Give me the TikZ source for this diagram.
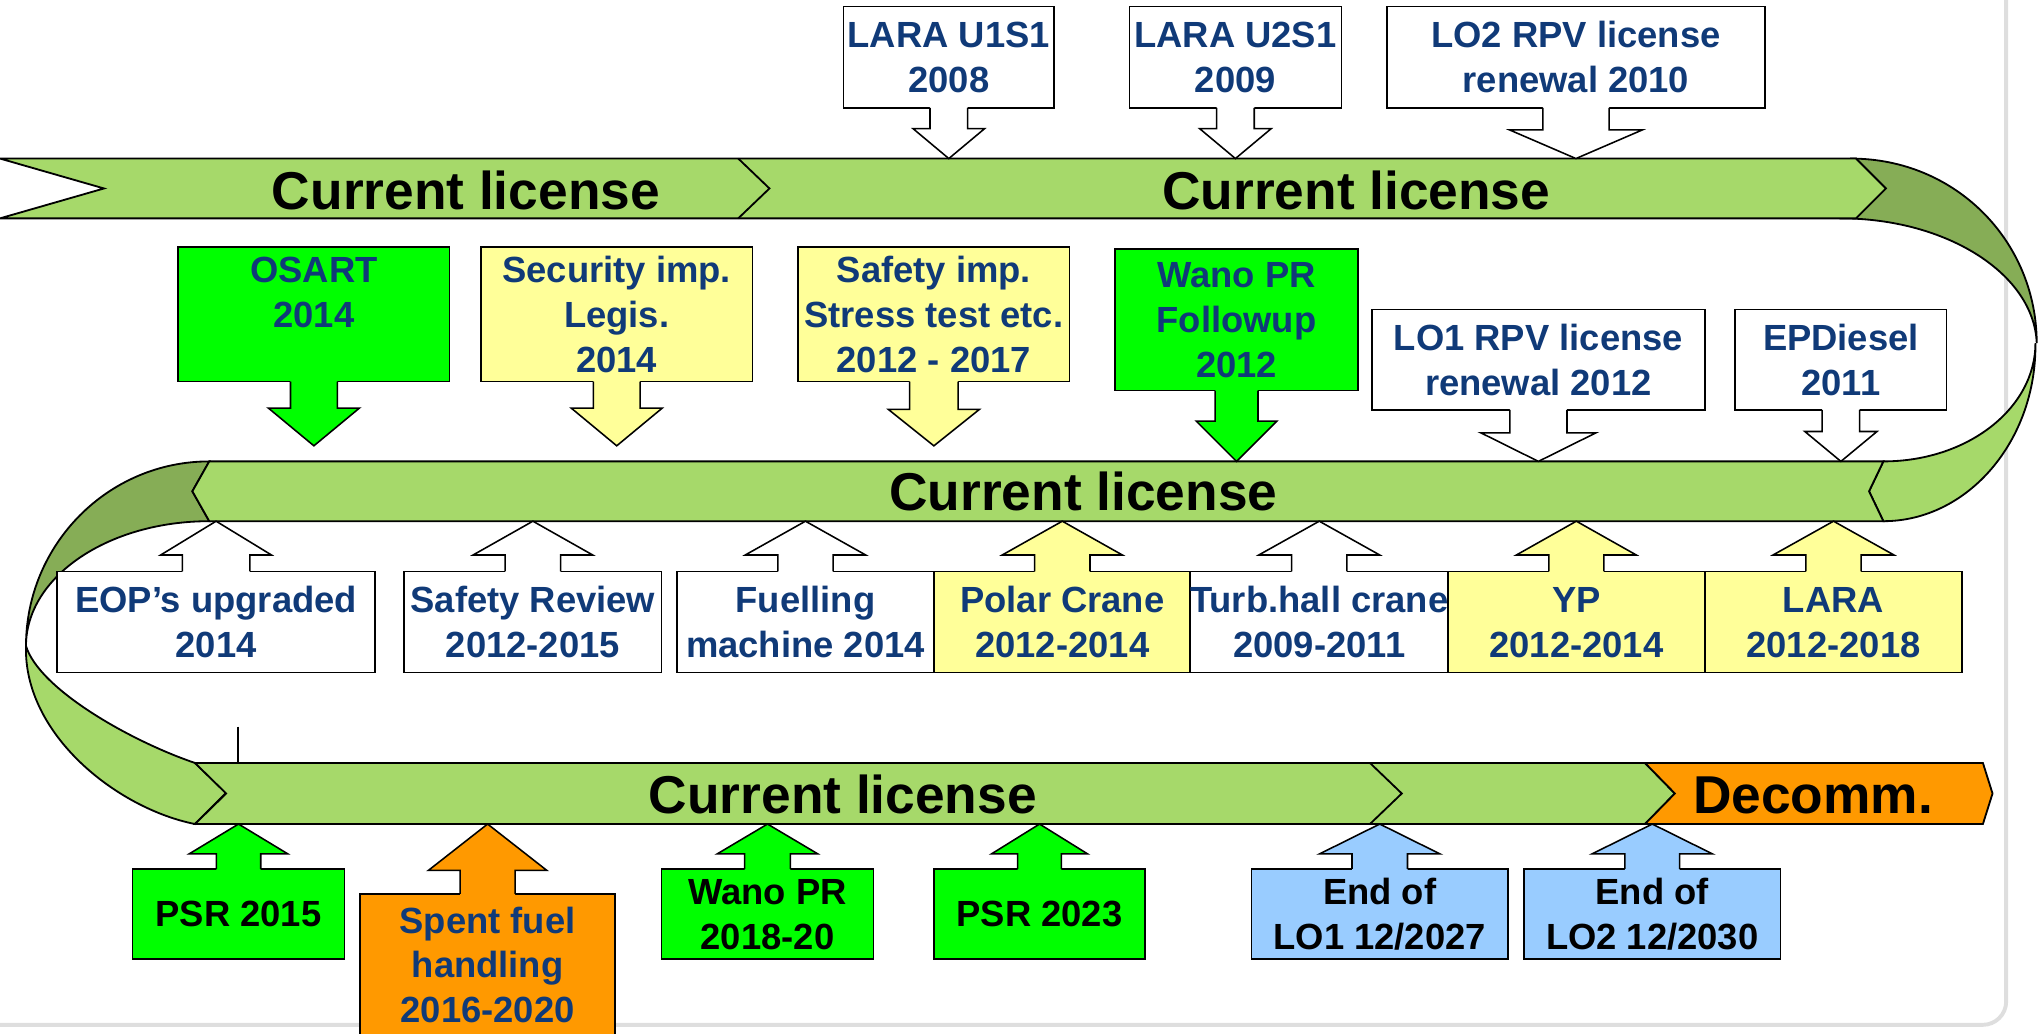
\documentclass[tikz,border=0pt]{standalone}
\usepackage{fontspec}
\setmainfont{Liberation Sans}
\usetikzlibrary{calc}
\definecolor{bandg}{RGB}{166,217,106}
\definecolor{darkg}{RGB}{134,173,86}
\definecolor{brightg}{RGB}{0,255,0}
\definecolor{paley}{RGB}{255,255,153}
\definecolor{orng}{RGB}{255,153,0}
\definecolor{lblue}{RGB}{153,204,255}
\definecolor{navy}{RGB}{16,58,120}
\definecolor{framegray}{RGB}{222,222,222}
\def\U{0.5pt}
\newcommand\sst{\rule[-3.625pt]{0pt}{17.25pt}}
\tikzset{
  outl/.style={draw=black, line width=0.6pt, line join=miter},
  band/.style={fill=bandg, draw=black, line width=0.7pt, line join=miter},
  back/.style={fill=darkg, draw=black, line width=0.7pt, line join=miter},
  box/.style={rectangle, draw=black, line width=0.6pt, inner sep=0pt, outer sep=0pt,
    align=center, font=\fontsize{14pt}{17.25pt}\selectfont\bfseries, text=navy},
  wh/.style 2 args={minimum width=#1*\U, minimum height=#2*\U},
  bandtxt/.style={font=\fontsize{20.5pt}{24pt}\selectfont\bfseries, anchor=base, inner sep=0pt, text=black}
}
% arrow pointing down from a box: #1 box, #2 head base y, #3 tip y, #4 shaft half width, #5 head half width, #6 fill
\newcommand\arrdn[6]{%
  \coordinate (#1-hb) at (#1.south |- 0,#2);
  \coordinate (#1-tp) at (#1.south |- 0,#3);
  \fill[#6] ($(#1.south)+(-#4,-1.5)$) -- ($(#1-hb)+(-#4,0)$) -- ($(#1-hb)+(-#5,0)$) -- (#1-tp)
     -- ($(#1-hb)+(#5,0)$) -- ($(#1-hb)+(#4,0)$) -- ($(#1.south)+(#4,-1.5)$) -- cycle;
  \draw[outl] ($(#1.south)+(-#4,0)$) -- ($(#1-hb)+(-#4,0)$) -- ($(#1-hb)+(-#5,0)$) -- (#1-tp)
     -- ($(#1-hb)+(#5,0)$) -- ($(#1-hb)+(#4,0)$) -- ($(#1.south)+(#4,0)$);
}
% arrow pointing up from a box
\newcommand\arrup[6]{%
  \coordinate (#1-hb) at (#1.north |- 0,#2);
  \coordinate (#1-tp) at (#1.north |- 0,#3);
  \fill[#6] ($(#1.north)+(-#4,1.5)$) -- ($(#1-hb)+(-#4,0)$) -- ($(#1-hb)+(-#5,0)$) -- (#1-tp)
     -- ($(#1-hb)+(#5,0)$) -- ($(#1-hb)+(#4,0)$) -- ($(#1.north)+(#4,1.5)$) -- cycle;
  \draw[outl] ($(#1.north)+(-#4,0)$) -- ($(#1-hb)+(-#4,0)$) -- ($(#1-hb)+(-#5,0)$) -- (#1-tp)
     -- ($(#1-hb)+(#5,0)$) -- ($(#1-hb)+(#4,0)$) -- ($(#1.north)+(#4,0)$);
}
\begin{document}
\begin{tikzpicture}[x=0.5pt,y=-0.5pt]
\useasboundingbox (0,0) rectangle (1568,795);
% frame
\draw[draw=framegray, line width=1.5pt, rounded corners=9pt] (1543.5,-10) -- (1543.5,788.5) -- (-10,788.5);

% right U-turn
\draw[back] (1424,122) .. controls (1505,122) and (1567,186) .. (1567,264)
   .. controls (1565,211) and (1498,168) .. (1416,168) -- cycle;
\draw[band] (1449,355) .. controls (1514,355) and (1566,314) .. (1566,264)
   .. controls (1567,339) and (1514,401) .. (1449,401) -- (1438,378) -- cycle;
% left U-turn
\draw[back] (161,355) .. controls (83,355) and (20,419) .. (20,497)
   .. controls (20,444) and (83,401) .. (161,401) -- (148,378) -- cycle;
\draw[band] (20,497) .. controls (30,530) and (100,570) .. (150,587) -- (174,610) -- (150,634)
   .. controls (90,622) and (18,565) .. (20,497) -- cycle;

% top band
\draw[band] (0,122) -- (1428,122) -- (1451,145) -- (1428,168) -- (0,168) -- (80,145) -- cycle;
\draw[outl, line width=0.7pt] (568,122) -- (592,145) -- (568,168);
% middle band
\draw[band] (161,355) -- (1449,355) -- (1438,378) -- (1449,401) -- (161,401) -- (148,378) -- cycle;
% bottom band
\draw[band] (150,587) -- (1265.6,587) -- (1288.6,610.5) -- (1265.6,634) -- (150,634) -- (174,610.5) -- cycle;
\draw[outl, line width=0.7pt] (1054,587) -- (1078.5,610.5) -- (1054,634);
\draw[band, fill=orng] (1265.6,587) -- (1525.6,587) -- (1533,610.5) -- (1525.6,634) -- (1265.6,634) -- (1288.6,610.5) -- cycle;

% band labels
\node[bandtxt] (cl1) at (358.5,161) {Current license};
\node[bandtxt] (cl2) at (1043.5,161) {Current license};
\node[bandtxt] (cl3) at (833.5,393) {Current license};
\node[bandtxt] (cl4) at (648.5,625.6) {Current license};
\node[bandtxt] (dec) at (1395,625.6) {Decomm.};

% small stub line
\coordinate (stubtop) at (183,559);
\draw[line width=0.6pt] (stubtop) -- (stubtop |- 0,587);

% top row boxes
\node[box, wh={162}{78}, fill=white] (lara1) at (730,44) {\sst LARA U1S1\\\sst 2008};
\node[box, wh={163}{78}, fill=white] (lara2) at (950.5,44) {\sst LARA U2S1\\\sst 2009};
\node[box, wh={291}{78}, fill=white] (lo2) at (1212.5,44) {\sst LO2 RPV license\\\sst renewal 2010};
\arrdn{lara1}{99}{122}{14.5}{27.5}{white}
\arrdn{lara2}{99}{122}{14.5}{27.5}{white}
\arrdn{lo2}{100}{122}{25.5}{51}{white}

% middle upper row
\node[box, wh={209}{100.8}, fill=brightg] (osart) at (241.5,241.9) {\sst OSART\\\sst 2014\\\sst};
\node[box, wh={209}{100.8}, fill=paley] (secur) at (474.5,241.9) {\sst Security imp.\\\sst Legis.\\\sst 2014};
\node[box, wh={209}{100.8}, fill=paley] (safety) at (718.5,241.9) {\sst Safety imp.\\\sst Stress test etc.\\\sst 2012 - 2017};
\node[box, wh={186.7}{109}, fill=brightg] (wano1) at (951.35,246) {\sst Wano PR\\\sst Followup\\\sst 2012};
\node[box, wh={256}{77.4}, fill=white] (lo1) at (1183.6,276.7) {\sst LO1 RPV license\\\sst renewal 2012};
\node[box, wh={162.7}{77.4}, fill=white] (epd) at (1416.35,276.7) {\sst EPDiesel\\\sst 2011};
\arrdn{osart}{314}{343}{18}{35}{brightg}
\arrdn{secur}{314}{343}{18}{35}{paley}
\arrdn{safety}{315}{343}{18.7}{35}{paley}
\arrdn{wano1}{324}{355}{16.5}{31}{brightg}
\arrdn{lo1}{333}{355}{22}{44.3}{white}
\arrdn{epd}{332}{355}{14.4}{27.75}{white}

% middle lower row
\node[box, wh={244.5}{77.8}, fill=white] (eop) at (166.25,478.6) {\sst EOP’s upgraded\\\sst 2014};
\node[box, wh={198}{77.8}, fill=white] (safrev) at (410,478.6) {\sst Safety Review\\\sst 2012-2015};
\node[box, wh={197.8}{77.8}, fill=white] (fuel) at (619.7,478.6) {\sst Fuelling\\\sst machine 2014};
\node[box, wh={197.4}{77.8}, fill=paley] (polar) at (817.3,478.6) {\sst Polar Crane\\\sst 2012-2014};
\node[box, wh={198}{77.8}, fill=white] (turb) at (1015,478.6) {\sst Turb.hall crane\\\sst 2009-2011};
\node[box, wh={197.6}{77.8}, fill=paley] (yp) at (1212.8,478.6) {\sst YP\\\sst 2012-2014};
\node[box, wh={198.1}{77.8}, fill=paley] (lara) at (1410.65,478.6) {\sst LARA\\\sst 2012-2018};
\arrup{eop}{427}{401}{26}{42.6}{white}
\arrup{safrev}{427}{401}{21.35}{46}{white}
\arrup{fuel}{427}{401}{21.25}{46.3}{white}
\arrup{polar}{427}{401}{21.3}{46.2}{paley}
\arrup{turb}{427}{401}{21.2}{46.5}{white}
\arrup{yp}{427}{401}{21.2}{46.1}{paley}
\arrup{lara}{427}{401}{21.3}{46.5}{paley}

% bottom row
\node[box, wh={163}{69.2}, fill=brightg, text=black] (psr15) at (183.5,703.1) {\sst PSR 2015};
\node[box, wh={196.3}{109.3}, fill=orng] (spent) at (375.15,742.35) {\sst Spent fuel\\\sst handling\\\sst 2016-2020};
\node[box, wh={163}{69.2}, fill=brightg, text=black] (wano2) at (590.5,703.1) {\sst Wano PR\\\sst 2018-20};
\node[box, wh={162.4}{69.2}, fill=brightg, text=black] (psr23) at (799.8,703.1) {\sst PSR 2023};
\node[box, wh={197.5}{69.2}, fill=lblue, text=black] (end1) at (1061.55,703.1) {\sst End of\\\sst LO1 12/2027};
\node[box, wh={197.6}{69.2}, fill=lblue, text=black] (end2) at (1271.2,703.1) {\sst End of\\\sst LO2 12/2030};
\arrup{psr15}{657}{634}{17.1}{38}{brightg}
\arrup{spent}{669.7}{634}{21.2}{45.6}{orng}
\arrup{wano2}{657}{634}{17.6}{38.75}{brightg}
\arrup{psr23}{657}{634}{16.8}{37}{brightg}
\arrup{end1}{657}{634}{21.35}{46.35}{lblue}
\arrup{end2}{657}{634}{21.1}{46.35}{lblue}
\end{tikzpicture}
\end{document}
